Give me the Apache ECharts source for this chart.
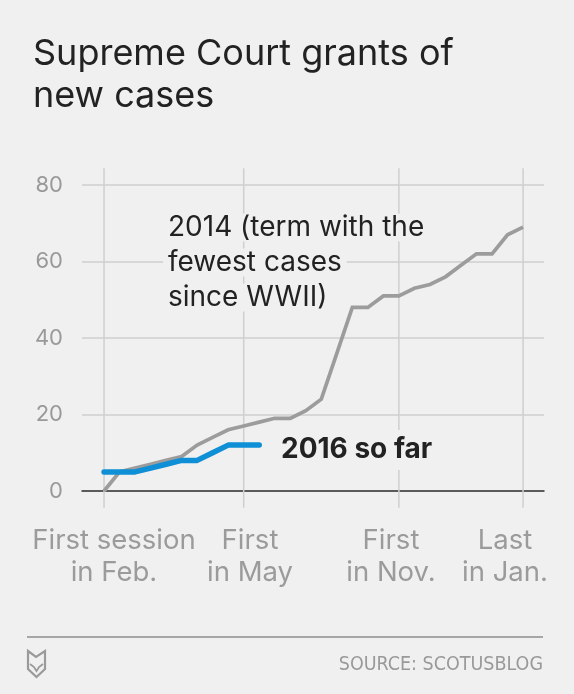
<!DOCTYPE html>
<html>
<head>
<meta charset="utf-8">
<script src="https://cdn.jsdelivr.net/npm/echarts@6/dist/echarts.min.js"></script>
<style>
html,body{margin:0;padding:0;background:#f0f0f0;}
#c{width:574px;height:694px;}
</style>
</head>
<body>
<div id="c"></div>
<script>
// ---- data ----
const gray2014 = [0,5,6,7,8,9,12,14,16,17,18,19,19,21,24,36,48,48,51,51,53,54,56,59,62,62,67,69];
const blue2016 = [5,5,5,6,7,8,8,10,12,12,12];
const gridIdx = [0,9,19,27];
const xTickLines1 = ['First session','First','First','Last'];
const xTickLines2 = ['in Feb.','in May','in Nov.','in Jan.'];
const yTicks = [0,20,40,60,80];

const FONT = 'Inter, "Liberation Sans", sans-serif';
const chart = echarts.init(document.getElementById('c'));

const toXY = arr => arr.map((v,i)=>[i,v]);
const vLines = [];
gridIdx.forEach(g => { vLines.push([g,-4.4],[g,84.4],null); });
vLines.pop();

const xLabelCenters = [114,250,391,505];
const graphics = [
  {type:'text', z:100, style:{text:'Supreme Court grants of', x:33, y:54, font:'400 36px '+FONT, fill:'#222', verticalAlign:'middle'}},
  {type:'text', z:100, style:{text:'new cases', x:33, y:96, font:'400 36px '+FONT, fill:'#222', verticalAlign:'middle'}},
  {type:'text', z:100, style:{
    x:163, y:210,
    text:'{a|2014 (term with the}\n{a|fewest cases}\n{a|since WWII)}',
    rich:{a:{font:'400 28px '+FONT, fill:'#222', backgroundColor:'#f0f0f0', lineHeight:35, padding:[0,5,0,5]}}
  }},
  {type:'text', z:100, style:{
    x:277, y:450, text:'2016 so far', font:'700 28px '+FONT, fill:'#222', verticalAlign:'middle',
    backgroundColor:'#f0f0f0', padding:[6,4,6,4]
  }},
  {type:'line', z:100, shape:{x1:27,y1:637,x2:543,y2:637}, style:{stroke:'#a6a6a6', lineWidth:2}},
  {type:'polygon', z:100, shape:{points:[[28,651],[36,657],[45,651],[45,669],[36.5,677],[28,669]]}, style:{fill:'none', stroke:'#9a9a9a', lineWidth:2.2}},
  {type:'polyline', z:100, shape:{points:[[30,664],[34,667],[36.5,671],[39,667],[43,664]]}, style:{fill:'none', stroke:'#9a9a9a', lineWidth:1.8}},
  {type:'text', z:100, style:{text:'SOURCE: SCOTUSBLOG', x:543, y:665, font:'400 19.5px "Liberation Sans Narrow","DejaVu Sans Condensed",sans-serif', fill:'#999', align:'right', verticalAlign:'middle'}}
];
xLabelCenters.forEach((cx,i)=>{
  graphics.push({type:'text', z:100, style:{text:xTickLines1[i], x:cx, y:541, font:'400 27.5px '+FONT, fill:'#9b9b9b', align:'center', verticalAlign:'middle'}});
  graphics.push({type:'text', z:100, style:{text:xTickLines2[i], x:cx, y:573, font:'400 27.5px '+FONT, fill:'#9b9b9b', align:'center', verticalAlign:'middle'}});
});

chart.setOption({
  backgroundColor:'#f0f0f0',
  animation:false,
  grid:{left:82, right:30, top:185, bottom:203},
  xAxis:{type:'value', min:-1.42, max:28.35, show:true,
    axisLine:{show:true, onZero:false, lineStyle:{color:'#333', width:1.5}},
    axisTick:{show:false}, axisLabel:{show:false}, splitLine:{show:false}},
  yAxis:{type:'value', min:0, max:80, interval:20,
    axisLine:{show:false}, axisTick:{show:false},
    axisLabel:{margin:19, color:'#999', fontSize:22, fontFamily:FONT,
      formatter:v=> yTicks.includes(v) ? String(v) : ''},
    splitLine:{show:true, lineStyle:{color:'#cfcfcf', width:1.5}}},
  series:[
    {type:'line', data:vLines, clip:false, silent:true, symbol:'none', z:1, connectNulls:false,
      lineStyle:{color:'#cfcfcf', width:1.5}},
    {type:'line', data:toXY(gray2014), symbol:'none', z:3,
      lineStyle:{color:'#9c9c9c', width:3.7, join:'miter'}},
    {type:'line', data:toXY(blue2016), symbol:'none', z:4,
      lineStyle:{color:'#0e8fd6', width:5.5, cap:'round', join:'round'}}
  ],
  graphic:graphics
});
</script>
</body>
</html>
